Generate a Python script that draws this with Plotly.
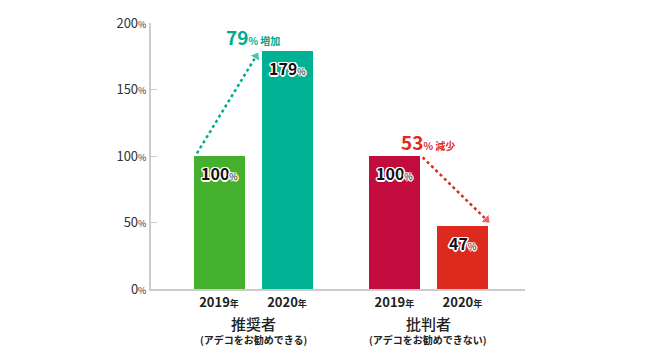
import plotly.graph_objects as go

# ---- data ----
groups = ["推奨者", "批判者"]
group_notes = ["(アデコをお勧めできる)", "(アデコをお勧めできない)"]
years = ["2019", "2020", "2019", "2020"]
values = [100, 179, 100, 47]
bar_colors = ["#45b02d", "#00b194", "#c20c3d", "#dd2a1f"]
changes = [79, 53]
change_words = ["増加", "減少"]
change_colors = ["#00a98c", "#dd2a1f"]
y_ticks = [0, 50, 100, 150, 200]

# positions of bars along the numeric x axis
xpos = [1.0, 2.0, 3.58, 4.58]
bw = 0.75

FONT = "Noto Sans CJK JP, Noto Sans, sans-serif"

fig = go.Figure()
fig.add_trace(go.Bar(
    x=xpos, y=values, width=bw,
    marker=dict(color=bar_colors, line=dict(width=0)),
    hoverinfo="skip", showlegend=False,
))

# dotted arrows
arrow_specs = [
    (xpos[0] - bw / 2 + 0.05, values[0] + 2, xpos[1] - bw / 2 - 0.08, values[1] - 4, change_colors[0]),
    (xpos[2] + bw / 2 + 0.04, values[2] - 1, xpos[3] + bw / 2 - 0.02, values[3] + 5, change_colors[1]),
]
for x0, y0, x1, y1, c in arrow_specs:
    fig.add_trace(go.Scatter(
        x=[x0, x1], y=[y0, y1], mode="lines+markers",
        line=dict(color=c, width=2.5, dash="dot"),
        marker=dict(symbol="triangle-up", size=[0, 10], color=c, angleref="previous"),
        hoverinfo="skip", showlegend=False, cliponaxis=False,
    ))

# value labels inside bars
halo = ("1px 1px 0 #fff, -1px -1px 0 #fff, 1px -1px 0 #fff, -1px 1px 0 #fff, "
        "0 1.5px 0 #fff, 0 -1.5px 0 #fff, 1.5px 0 0 #fff, -1.5px 0 0 #fff")
for x, v in zip(xpos, values):
    fig.add_annotation(
        x=x, y=v, xref="x", yref="y", yshift=-17, showarrow=False,
        text=f"<b>{v}</b><span style='font-size:9px'>%</span>",
        font=dict(family=FONT, size=16, color="#111", shadow=halo),
    )

# change annotations
change_anchor = [((xpos[0] + xpos[1]) / 2, 190), ((xpos[2] + xpos[3]) / 2, 111)]
for (cx, cy), n, w, c in zip(change_anchor, changes, change_words, change_colors):
    fig.add_annotation(
        x=cx, y=cy, xref="x", yref="y", showarrow=False,
        text=f"<b>{n}</b><span style='font-size:10px'><b>%</b> <b>{w}</b></span>",
        font=dict(family=FONT, size=19, color=c),
    )

# group labels
for i, (g, note) in enumerate(zip(groups, group_notes)):
    gx = (xpos[2 * i] + xpos[2 * i + 1]) / 2
    fig.add_annotation(x=gx, y=0, xref="x", yref="paper", yanchor="middle", yshift=-34,
                       showarrow=False, text=g,
                       font=dict(family=FONT, size=15, color="#222", weight=500))
    fig.add_annotation(x=gx, y=0, xref="x", yref="paper", yanchor="middle", yshift=-50,
                       showarrow=False, text=f"<b>{note}</b>",
                       font=dict(family=FONT, size=10, color="#222"))

# page body has an 8px margin, so the figure is sized/offset to compensate
fig.update_layout(
    width=642, height=352,
    margin=dict(l=143, r=125, t=15, b=71, autoexpand=False),
    paper_bgcolor="white", plot_bgcolor="white",
    bargap=0,
    font=dict(family=FONT),
    xaxis=dict(
        range=[0, 5.5], showgrid=False, zeroline=False, automargin=False,
        showline=True, linecolor="#cccccc", linewidth=2,
        tickvals=xpos,
        ticktext=[f"<b>{y}</b><span style='font-size:9px'><b>年</b></span>" for y in years],
        ticks="", tickfont=dict(family=FONT, size=13, color="#222"),
        fixedrange=True,
    ),
    yaxis=dict(
        range=[0, 200], showgrid=False, zeroline=False, automargin=False,
        showline=True, linecolor="#cccccc", linewidth=2,
        tickvals=y_ticks,
        ticktext=[f"{t}<span style='font-size:9px'>%</span>" for t in y_ticks],
        ticks="inside", ticklen=6, tickcolor="#cccccc", tickwidth=1,
        tickfont=dict(family=FONT, size=13, color="#333"),
        fixedrange=True,
    ),
)

fig.write_html("out.html")
